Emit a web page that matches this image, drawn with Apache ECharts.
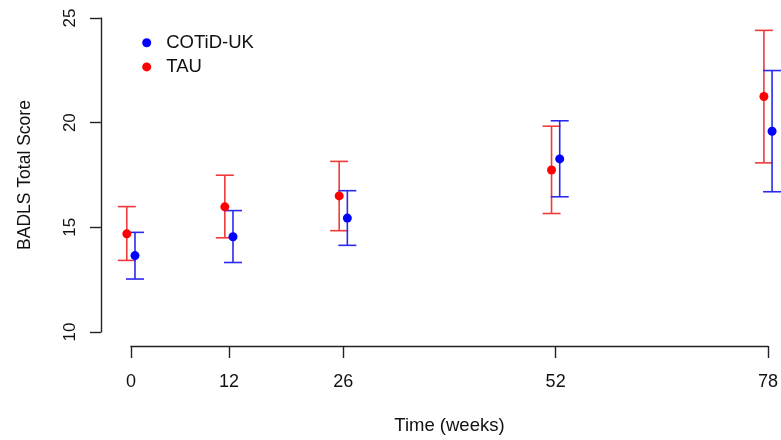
<!DOCTYPE html>
<html>
<head>
<meta charset="utf-8">
<script src="https://cdn.jsdelivr.net/npm/echarts@6/dist/echarts.min.js"></script>
<style>html,body{margin:0;padding:0;background:#fff;}#c{width:781px;height:440px;}</style>
</head>
<body>
<div id="c"></div>
<script>
var weeks = [0, 12, 26, 52, 78];
var weekTicks = [0, 12, 26, 52, 78];
var cotidMean = [13.65, 14.55, 15.44, 18.27, 19.59];
var cotidLower = [12.53, 13.32, 14.14, 16.46, 16.70];
var cotidUpper = [14.76, 15.80, 16.75, 20.09, 22.49];
var tauMean = [14.69, 15.98, 16.50, 17.74, 21.25];
var tauLower = [13.42, 14.50, 14.84, 15.66, 18.08];
var tauUpper = [15.99, 17.49, 18.15, 19.83, 24.41];
var dodge = 0.5;

var FONT = '"Liberation Sans", Arial, sans-serif';
var BLUE = '#0000ff', RED = '#ff0000';
var BLUE_BAR = '#2a2aee', RED_BAR = '#ee3a3a';

function pts(mean, off) { return weeks.map(function (w, i) { return [w + off, mean[i]]; }); }
function bars(lo, hi, off) { return weeks.map(function (w, i) { return [w + off, lo[i], hi[i]]; }); }

function errRender(color) {
  return function (params, api) {
    var x = api.value(0);
    var lo = api.coord([x, api.value(1)]);
    var hi = api.coord([x, api.value(2)]);
    var hw = 9;
    var st = { stroke: color, lineWidth: 1.6 };
    return {
      type: 'group',
      children: [
        { type: 'line', shape: { x1: lo[0], y1: lo[1], x2: hi[0], y2: hi[1] }, style: st },
        { type: 'line', shape: { x1: lo[0] - hw, y1: lo[1], x2: lo[0] + hw, y2: lo[1] }, style: st },
        { type: 'line', shape: { x1: hi[0] - hw, y1: hi[1], x2: hi[0] + hw, y2: hi[1] }, style: st }
      ]
    };
  };
}

var chart = echarts.init(document.getElementById('c'), null, { renderer: 'canvas' });
chart.setOption({
  animation: false,
  backgroundColor: '#fff',
  textStyle: { fontFamily: FONT },
  grid: { left: 130.9, right: 12.5, top: 18, bottom: 104.3, containLabel: false },
  legend: {
    orient: 'vertical',
    left: 137.2,
    top: 28.2,
    itemWidth: 9,
    itemHeight: 9,
    itemGap: 5.2,
    icon: 'circle',
    data: [
      { name: 'COTiD-UK', itemStyle: { color: BLUE } },
      { name: 'TAU', itemStyle: { color: RED } }
    ],
    textStyle: { fontFamily: FONT, fontSize: 18.5, color: '#111', lineHeight: 18, padding: [0, 0, 0, 10] }
  },
  xAxis: {
    type: 'value',
    min: 0, max: 78,
    offset: 14,
    name: 'Time (weeks)',
    nameLocation: 'middle',
    nameGap: 70,
    nameTextStyle: { fontFamily: FONT, fontSize: 18.5, color: '#111' },
    axisLine: { show: true, onZero: false, lineStyle: { color: '#222', width: 1.4 } },
    axisTick: { show: true, length: 12, customValues: weekTicks, lineStyle: { color: '#222', width: 1.4 } },
    axisLabel: { customValues: weekTicks, margin: 27, fontFamily: FONT, fontSize: 18, color: '#111' },
    splitLine: { show: false }
  },
  yAxis: {
    type: 'value',
    min: 10, max: 25, interval: 5,
    offset: 30,
    name: 'BADLS Total Score',
    nameLocation: 'middle',
    nameGap: 67,
    nameRotate: 90,
    nameTextStyle: { fontFamily: FONT, fontSize: 17.5, color: '#111' },
    axisLine: { show: true, onZero: false, lineStyle: { color: '#222', width: 1.4 } },
    axisTick: { show: true, length: 11, lineStyle: { color: '#222', width: 1.4 } },
    axisLabel: { rotate: 90, margin: 22, fontFamily: FONT, fontSize: 17, color: '#111' },
    splitLine: { show: false }
  },
  series: [
    { name: 'TAU err', type: 'custom', clip: false, renderItem: errRender(RED_BAR), data: bars(tauLower, tauUpper, -dodge), silent: true, z: 2 },
    { name: 'COTiD-UK err', type: 'custom', clip: false, renderItem: errRender(BLUE_BAR), data: bars(cotidLower, cotidUpper, dodge), silent: true, z: 2 },
    { name: 'TAU', type: 'scatter', clip: false, symbol: 'circle', symbolSize: 9, itemStyle: { color: RED, opacity: 1 }, data: pts(tauMean, -dodge), z: 3 },
    { name: 'COTiD-UK', type: 'scatter', clip: false, symbol: 'circle', symbolSize: 9, itemStyle: { color: BLUE, opacity: 1 }, data: pts(cotidMean, dodge), z: 3 }
  ]
});
</script>
</body>
</html>
